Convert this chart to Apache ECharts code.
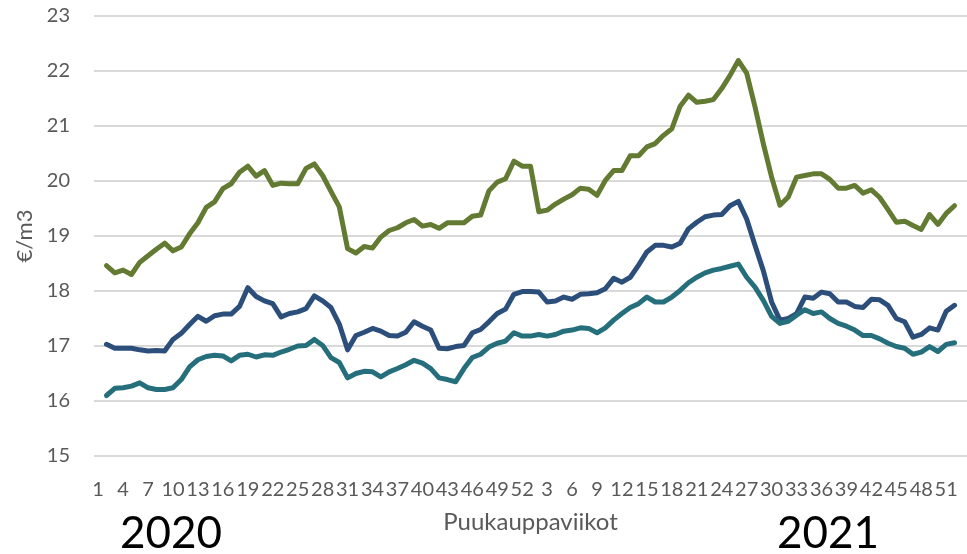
<!DOCTYPE html>
<html>
<head>
<meta charset="utf-8">
<script src="https://cdn.jsdelivr.net/npm/echarts@6/dist/echarts.min.js"></script>
<style>
html,body{margin:0;padding:0;background:#fff;}
#chart{width:967px;height:554px;}
</style>
</head>
<body>
<div id="chart"></div>
<script>
// Week categories: 2020 weeks 1-52, 2021 weeks 1-52, plus one empty trailing slot
const weeks2020 = Array.from({length: 52}, (_, i) => String(i + 1));
const weeks2021 = Array.from({length: 52}, (_, i) => String(i + 1));
const categories = weeks2020.concat(weeks2021, ['']);

// Values from 2020 week 2 onwards
const greenValues = [
  18.46, 18.33, 18.38, 18.30, 18.52, 18.64, 18.76, 18.87, 18.73, 18.80,
  19.04, 19.24, 19.52, 19.62, 19.86, 19.95, 20.16, 20.27, 20.09, 20.19,
  19.92, 19.96, 19.95, 19.95, 20.23, 20.31, 20.10, 19.81, 19.53, 18.77,
  18.69, 18.81, 18.78, 18.98, 19.10, 19.15, 19.24, 19.30, 19.18, 19.21,
  19.14, 19.24, 19.24, 19.24, 19.36, 19.38, 19.82, 19.98, 20.04, 20.36,
  20.27, 20.27, 19.44, 19.47, 19.58, 19.67, 19.75, 19.87, 19.85, 19.74,
  20.01, 20.19, 20.19, 20.46, 20.46, 20.62, 20.68, 20.83, 20.95, 21.36,
  21.56, 21.43, 21.45, 21.48, 21.68, 21.92, 22.19, 21.96, 21.35, 20.68,
  20.07, 19.56, 19.71, 20.07, 20.10, 20.13, 20.13, 20.03, 19.87, 19.87,
  19.92, 19.78, 19.84, 19.70, 19.48, 19.25, 19.27, 19.19, 19.12, 19.39,
  19.21, 19.41, 19.55
];
const blueValues = [
  17.03, 16.96, 16.96, 16.96, 16.93, 16.91, 16.92, 16.91, 17.12, 17.23,
  17.39, 17.54, 17.45, 17.55, 17.58, 17.58, 17.72, 18.06, 17.90, 17.82,
  17.77, 17.53, 17.59, 17.62, 17.68, 17.91, 17.82, 17.70, 17.40, 16.93,
  17.19, 17.25, 17.32, 17.27, 17.19, 17.18, 17.25, 17.44, 17.36, 17.29,
  16.96, 16.95, 16.99, 17.01, 17.24, 17.30, 17.44, 17.59, 17.67, 17.94,
  17.99, 17.99, 17.98, 17.80, 17.82, 17.89, 17.85, 17.94, 17.95, 17.97,
  18.04, 18.23, 18.16, 18.25, 18.47, 18.71, 18.83, 18.83, 18.80, 18.87,
  19.13, 19.25, 19.35, 19.38, 19.39, 19.55, 19.63, 19.31, 18.83, 18.37,
  17.80, 17.47, 17.50, 17.59, 17.89, 17.87, 17.98, 17.95, 17.80, 17.80,
  17.72, 17.70, 17.85, 17.84, 17.74, 17.50, 17.44, 17.16, 17.21, 17.33,
  17.29, 17.63, 17.74
];
const tealValues = [
  16.10, 16.23, 16.24, 16.27, 16.33, 16.24, 16.21, 16.21, 16.24, 16.39,
  16.62, 16.75, 16.81, 16.83, 16.82, 16.73, 16.83, 16.85, 16.80, 16.84,
  16.83, 16.89, 16.94, 17.00, 17.01, 17.12, 17.01, 16.79, 16.70, 16.42,
  16.50, 16.54, 16.53, 16.44, 16.53, 16.59, 16.66, 16.74, 16.69, 16.59,
  16.42, 16.39, 16.35, 16.59, 16.79, 16.85, 16.98, 17.05, 17.09, 17.24,
  17.18, 17.18, 17.21, 17.18, 17.21, 17.27, 17.29, 17.33, 17.32, 17.24,
  17.33, 17.47, 17.59, 17.70, 17.77, 17.89, 17.80, 17.80, 17.89, 18.01,
  18.15, 18.25, 18.33, 18.38, 18.41, 18.45, 18.49, 18.25, 18.07, 17.83,
  17.54, 17.41, 17.45, 17.56, 17.66, 17.59, 17.62, 17.50, 17.41, 17.36,
  17.29, 17.19, 17.19, 17.13, 17.05, 16.99, 16.96, 16.85, 16.89, 16.99,
  16.90, 17.03, 17.06
];
const yearLabels = ['2020', '2021'];
const yTicks = {min: 15, max: 23, interval: 1};

const font = 'Lato, "Open Sans", sans-serif';
const grey = '#595959';

function series(values, color) {
  return {
    type: 'line',
    data: [null].concat(values),
    symbol: 'none',
    smooth: false,
    connectNulls: false,
    lineStyle: {width: 5, color: color, cap: 'round', join: 'round'},
    itemStyle: {color: color},
    animation: false
  };
}

const chart = echarts.init(document.getElementById('chart'), null, {renderer: 'canvas'});
chart.setOption({
  animation: false,
  backgroundColor: '#ffffff',
  grid: {left: 94, right: 0, top: 16, bottom: 98, containLabel: false},
  xAxis: {
    type: 'category',
    data: categories,
    boundaryGap: true,
    name: 'Puukauppaviikot',
    nameLocation: 'middle',
    nameGap: 54,
    nameTextStyle: {fontFamily: font, fontSize: 24, color: grey},
    axisLine: {show: false},
    axisTick: {show: false},
    axisLabel: {interval: 2, margin: 24, fontFamily: font, fontSize: 20, color: grey},
    splitLine: {show: false}
  },
  yAxis: {
    type: 'value',
    min: yTicks.min,
    max: yTicks.max,
    interval: yTicks.interval,
    name: '€/m3',
    nameLocation: 'middle',
    nameGap: 53,
    nameTextStyle: {fontFamily: font, fontSize: 22, color: grey},
    axisLine: {show: false},
    axisTick: {show: false},
    axisLabel: {margin: 24, fontFamily: font, fontSize: 20, color: grey},
    splitLine: {show: true, lineStyle: {color: '#d9d9d9', width: 2}}
  },
  graphic: [
    {type: 'text', x: 171, y: 534, style: {text: yearLabels[0], font: '44px ' + font, fill: '#000', textAlign: 'center', textVerticalAlign: 'middle'}},
    {type: 'text', x: 828, y: 534, style: {text: yearLabels[1], font: '44px ' + font, fill: '#000', textAlign: 'center', textVerticalAlign: 'middle'}}
  ],
  series: [
    series(greenValues, '#637A32'),
    series(blueValues, '#2C4E7A'),
    series(tealValues, '#256F7C')
  ]
});
</script>
</body>
</html>
